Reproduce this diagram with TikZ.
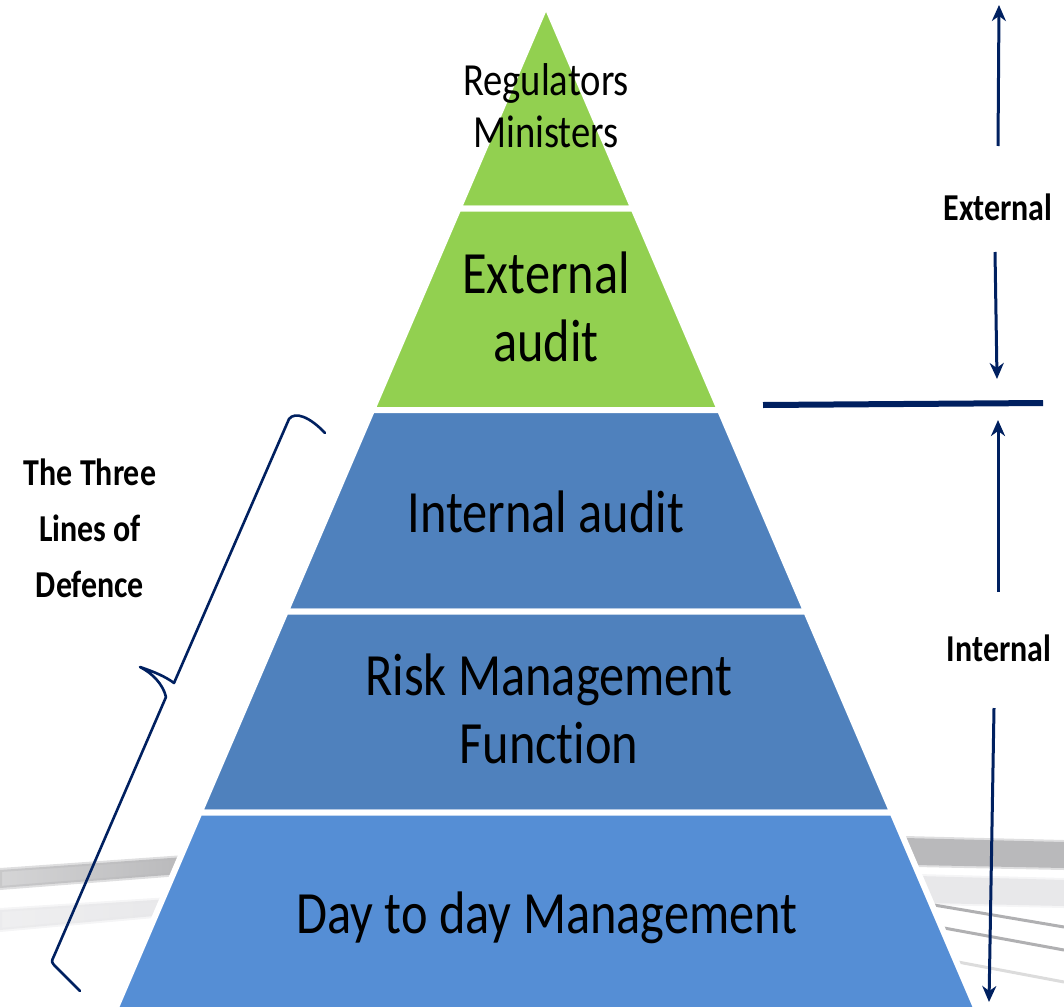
\documentclass[tikz,border=0pt]{standalone}
\usepackage{fontspec}
\setmainfont{Carlito}[FakeStretch=0.84, Ligatures=NoCommon]
\usetikzlibrary{arrows.meta}
\definecolor{tiergreen}{HTML}{92D050}
\definecolor{tierblue}{HTML}{4F81BD}
\definecolor{baseblue}{HTML}{558ED5}
\definecolor{navy}{HTML}{002060}
\definecolor{swooshdark}{HTML}{B9B9BB}
\definecolor{swooshlight}{HTML}{E8E8EA}
\definecolor{swooshline}{HTML}{B0B0B2}
\begin{document}
\begin{tikzpicture}[x=1pt,y=-1pt,
  tier/.style={draw=white, line width=6pt, line join=miter},
  tiertext/.style={font=\fontsize{60}{68}\selectfont, align=center, inner sep=0pt},
  toptext/.style={font=\fontsize{46}{52}\selectfont, align=center, inner sep=0pt},
  sidetext/.style={font=\bfseries\fontsize{38}{56}\selectfont, align=center, inner sep=0pt},
  scopearrow/.style={draw=navy, line width=3pt, -{Stealth[length=16pt,width=14pt,inset=5pt]}},
  divider/.style={draw=navy, line width=6pt},
  bracket/.style={draw=navy, line width=2.6pt, line join=round, line cap=round},
  haze/.style={line width=4pt, opacity=0.45, line join=round}
]
\useasboundingbox (0,0) rectangle (1064,1006);
\clip (0,0) rectangle (1064,1006);

% soft grey swoosh behind the base of the pyramid
\shade[left color=swooshlight!70, right color=swooshlight]
  (0,910) -- (170,899) -- (165,915) -- (0,930) -- cycle;
\draw[swooshlight, haze] (0,910) -- (170,899) -- (165,915) -- (0,930) -- cycle;
\shade[left color=swooshdark!60, right color=swooshdark]
  (0,870) -- (185,857) -- (180,874) -- (0,888) -- cycle;
\draw[swooshdark, haze] (0,870) -- (185,857) -- (180,874) -- (0,888) -- cycle;
\fill[swooshlight] (918,876) -- (1064,880) -- (1064,906) -- (928,903) -- cycle;
\draw[swooshlight, haze] (918,876) -- (1064,880) -- (1064,906) -- (928,903) -- cycle;
\fill[swooshdark] (905,838) -- (1064,842) -- (1064,868) -- (915,865) -- cycle;
\draw[swooshdark, haze] (905,838) -- (1064,842) -- (1064,868) -- (915,865) -- cycle;
\draw[swooshline, line width=3pt] (934,905) -- (1064,927);
\draw[swooshline, line width=3pt] (944,928) -- (1064,950);
\draw[swooshline!45, line width=3pt] (958,962) -- (1064,982);

% pyramid tiers
\filldraw[fill=tiergreen, tier] (546,4.3) -- (633.5,208.5) -- (458.5,208.5) -- cycle;
\filldraw[fill=tiergreen, tier] (458.5,208.5) -- (633.5,208.5) -- (719.9,410) -- (372.1,410) -- cycle;
\filldraw[fill=tierblue, tier] (372.1,410) -- (719.9,410) -- (806.2,611.5) -- (285.8,611.5) -- cycle;
\filldraw[fill=tierblue, tier] (285.8,611.5) -- (806.2,611.5) -- (892.4,812.5) -- (199.6,812.5) -- cycle;
\filldraw[fill=baseblue, tier] (199.6,812.5) -- (892.4,812.5) -- (979.2,1015) -- (112.8,1015) -- cycle;

% tier labels
\node[toptext] (regulators) at (546,106) {Regulators\\Ministers};
\node[tiertext] (extaudit) at (546,307) {External\\audit};
\node[tiertext] (intaudit) at (546,512) {Internal audit};
\node[tiertext] (riskfn) at (549,709) {Risk Management\\Function};
\node[tiertext] (daytoday) at (547,918) {Day to day Management};

% side labels
\node[sidetext] (external) at (998,207) {External};
\node[sidetext] (internal) at (999,648) {Internal};
\node[sidetext] (threelines) at (90,528) {The Three\\Lines of\\Defence};

% scope arrows and the external/internal divider
\coordinate (a1s) at (998,146);
\coordinate (a1e) at (999,5);
\coordinate (a2s) at (995,252);
\coordinate (a2e) at (997,379);
\coordinate (divL) at (763,405);
\coordinate (divR) at (1043,403);
\coordinate (a3s) at (998,592);
\coordinate (a3e) at (998,420);
\coordinate (a4s) at (994,708);
\coordinate (a4e) at (989,1002);
\draw[scopearrow] (a1s) -- (a1e);
\draw[scopearrow] (a2s) -- (a2e);
\draw[divider] (divL) -- (divR);
\draw[scopearrow] (a3s) -- (a3e);
\draw[scopearrow] (a4s) -- (a4e);

% brace grouping the three lines of defence
\coordinate (brlow) at (80,991);
\coordinate (brtip) at (140,667);
\coordinate (brhigh) at (325,433);
\draw[bracket] (brlow) -- (57,968) .. controls (51,962) .. (54,956)
  -- (166,697) .. controls (163,684) and (152,673) .. (brtip)
  .. controls (155,672) and (166,677) .. (174,683)
  -- (289,419) .. controls (295,411) and (310,417) .. (brhigh);
\end{tikzpicture}
\end{document}
